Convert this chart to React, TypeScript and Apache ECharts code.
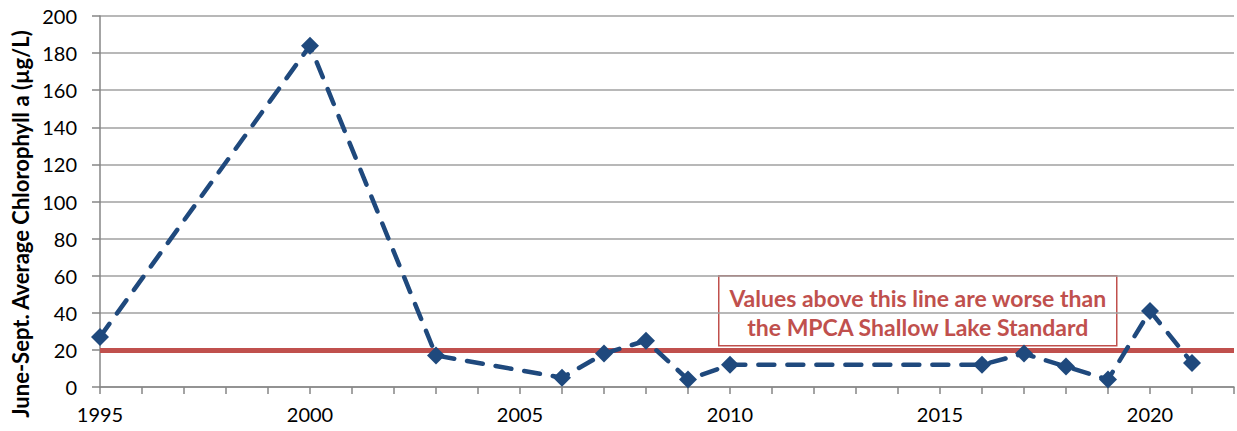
import React, { useEffect, useRef } from "react";
import * as echarts from "echarts";

const years = [1995, 2000, 2003, 2006, 2007, 2008, 2009, 2010, 2016, 2017, 2018, 2019, 2020, 2021];
const chlorophyll = [27, 184, 17, 5, 18, 25, 4, 12, 12, 18, 11, 4, 41, 13];
const standardValue = 20;
const yAxisTitle = "June-Sept. Average Chlorophyll a (µg/L)";
const noteLines = ["Values above this line are worse than", "the MPCA Shallow Lake Standard"];

export default function App() {
  const ref = useRef<HTMLDivElement>(null);
  useEffect(() => {
    if (!ref.current) return;
    const chart = echarts.init(ref.current, undefined, { renderer: "svg" });
    const font = "Lato, 'Open Sans', sans-serif";
    chart.setOption({
      animation: false,
      backgroundColor: "#ffffff",
      grid: { left: 100, right: 3, top: 16, bottom: 44, outerBoundsMode: "none", containLabel: false },
      xAxis: {
        type: "value",
        min: 1995,
        max: 2022,
        interval: 1,
        axisLine: { show: true, lineStyle: { color: "#868686", width: 1.5 } },
        axisTick: { show: true, length: 7, lineStyle: { color: "#868686", width: 1.5 } },
        axisLabel: {
          color: "#000",
          fontSize: 20,
          fontFamily: font,
          margin: 17,
          formatter: (v: number) => (v % 5 === 0 ? String(v) : ""),
        },
        splitLine: { show: false },
      },
      yAxis: {
        type: "value",
        min: 0,
        max: 200,
        interval: 20,
        axisLine: { show: true, lineStyle: { color: "#868686", width: 1.5 } },
        axisTick: { show: true, length: 8, lineStyle: { color: "#868686", width: 1.5 } },
        axisLabel: { color: "#000", fontSize: 20, fontFamily: font, margin: 23 },
        splitLine: { show: true, lineStyle: { color: "#a0a0a0", width: 1.5 } },
      },
      series: [
        {
          type: "line",
          data: years.map((y, i) => [y, chlorophyll[i]]),
          symbol: "diamond",
          symbolSize: 18,
          itemStyle: { color: "#1f497d" },
          lineStyle: { color: "#1f497d", width: 4.5, type: [16, 13], cap: "round" },
          z: 3,
          markLine: {
            silent: true,
            symbol: ["none", "none"],
            label: { show: false },
            lineStyle: { color: "#c0504d", width: 5, type: "solid" },
            data: [{ yAxis: standardValue }],
            z: 2,
          },
        },
      ],
      graphic: [
        {
          type: "text",
          x: 20,
          y: 224,
          rotation: Math.PI / 2,
          style: {
            text: yAxisTitle,
            fill: "#000",
            font: `bold 22px ${font}`,
            align: "center",
            verticalAlign: "middle",
          },
        },
        {
          type: "group",
          left: 718,
          top: 275,
          children: [
            {
              type: "rect",
              shape: { x: 0, y: 0, width: 398, height: 70 },
              style: { fill: "#ffffff", stroke: "#c0504d", lineWidth: 1.5 },
            },
            {
              type: "text",
              x: 199,
              y: 37,
              style: {
                text: noteLines.join("\n"),
                fill: "#c0504d",
                font: `bold 23px ${font}`,
                align: "center",
                verticalAlign: "middle",
                lineHeight: 29,
              },
            },
          ],
        },
      ],
    });
    return () => chart.dispose();
  }, []);
  return <div ref={ref} style={{ position: "fixed", left: 0, top: 0, width: 1237, height: 431 }} />;
}
